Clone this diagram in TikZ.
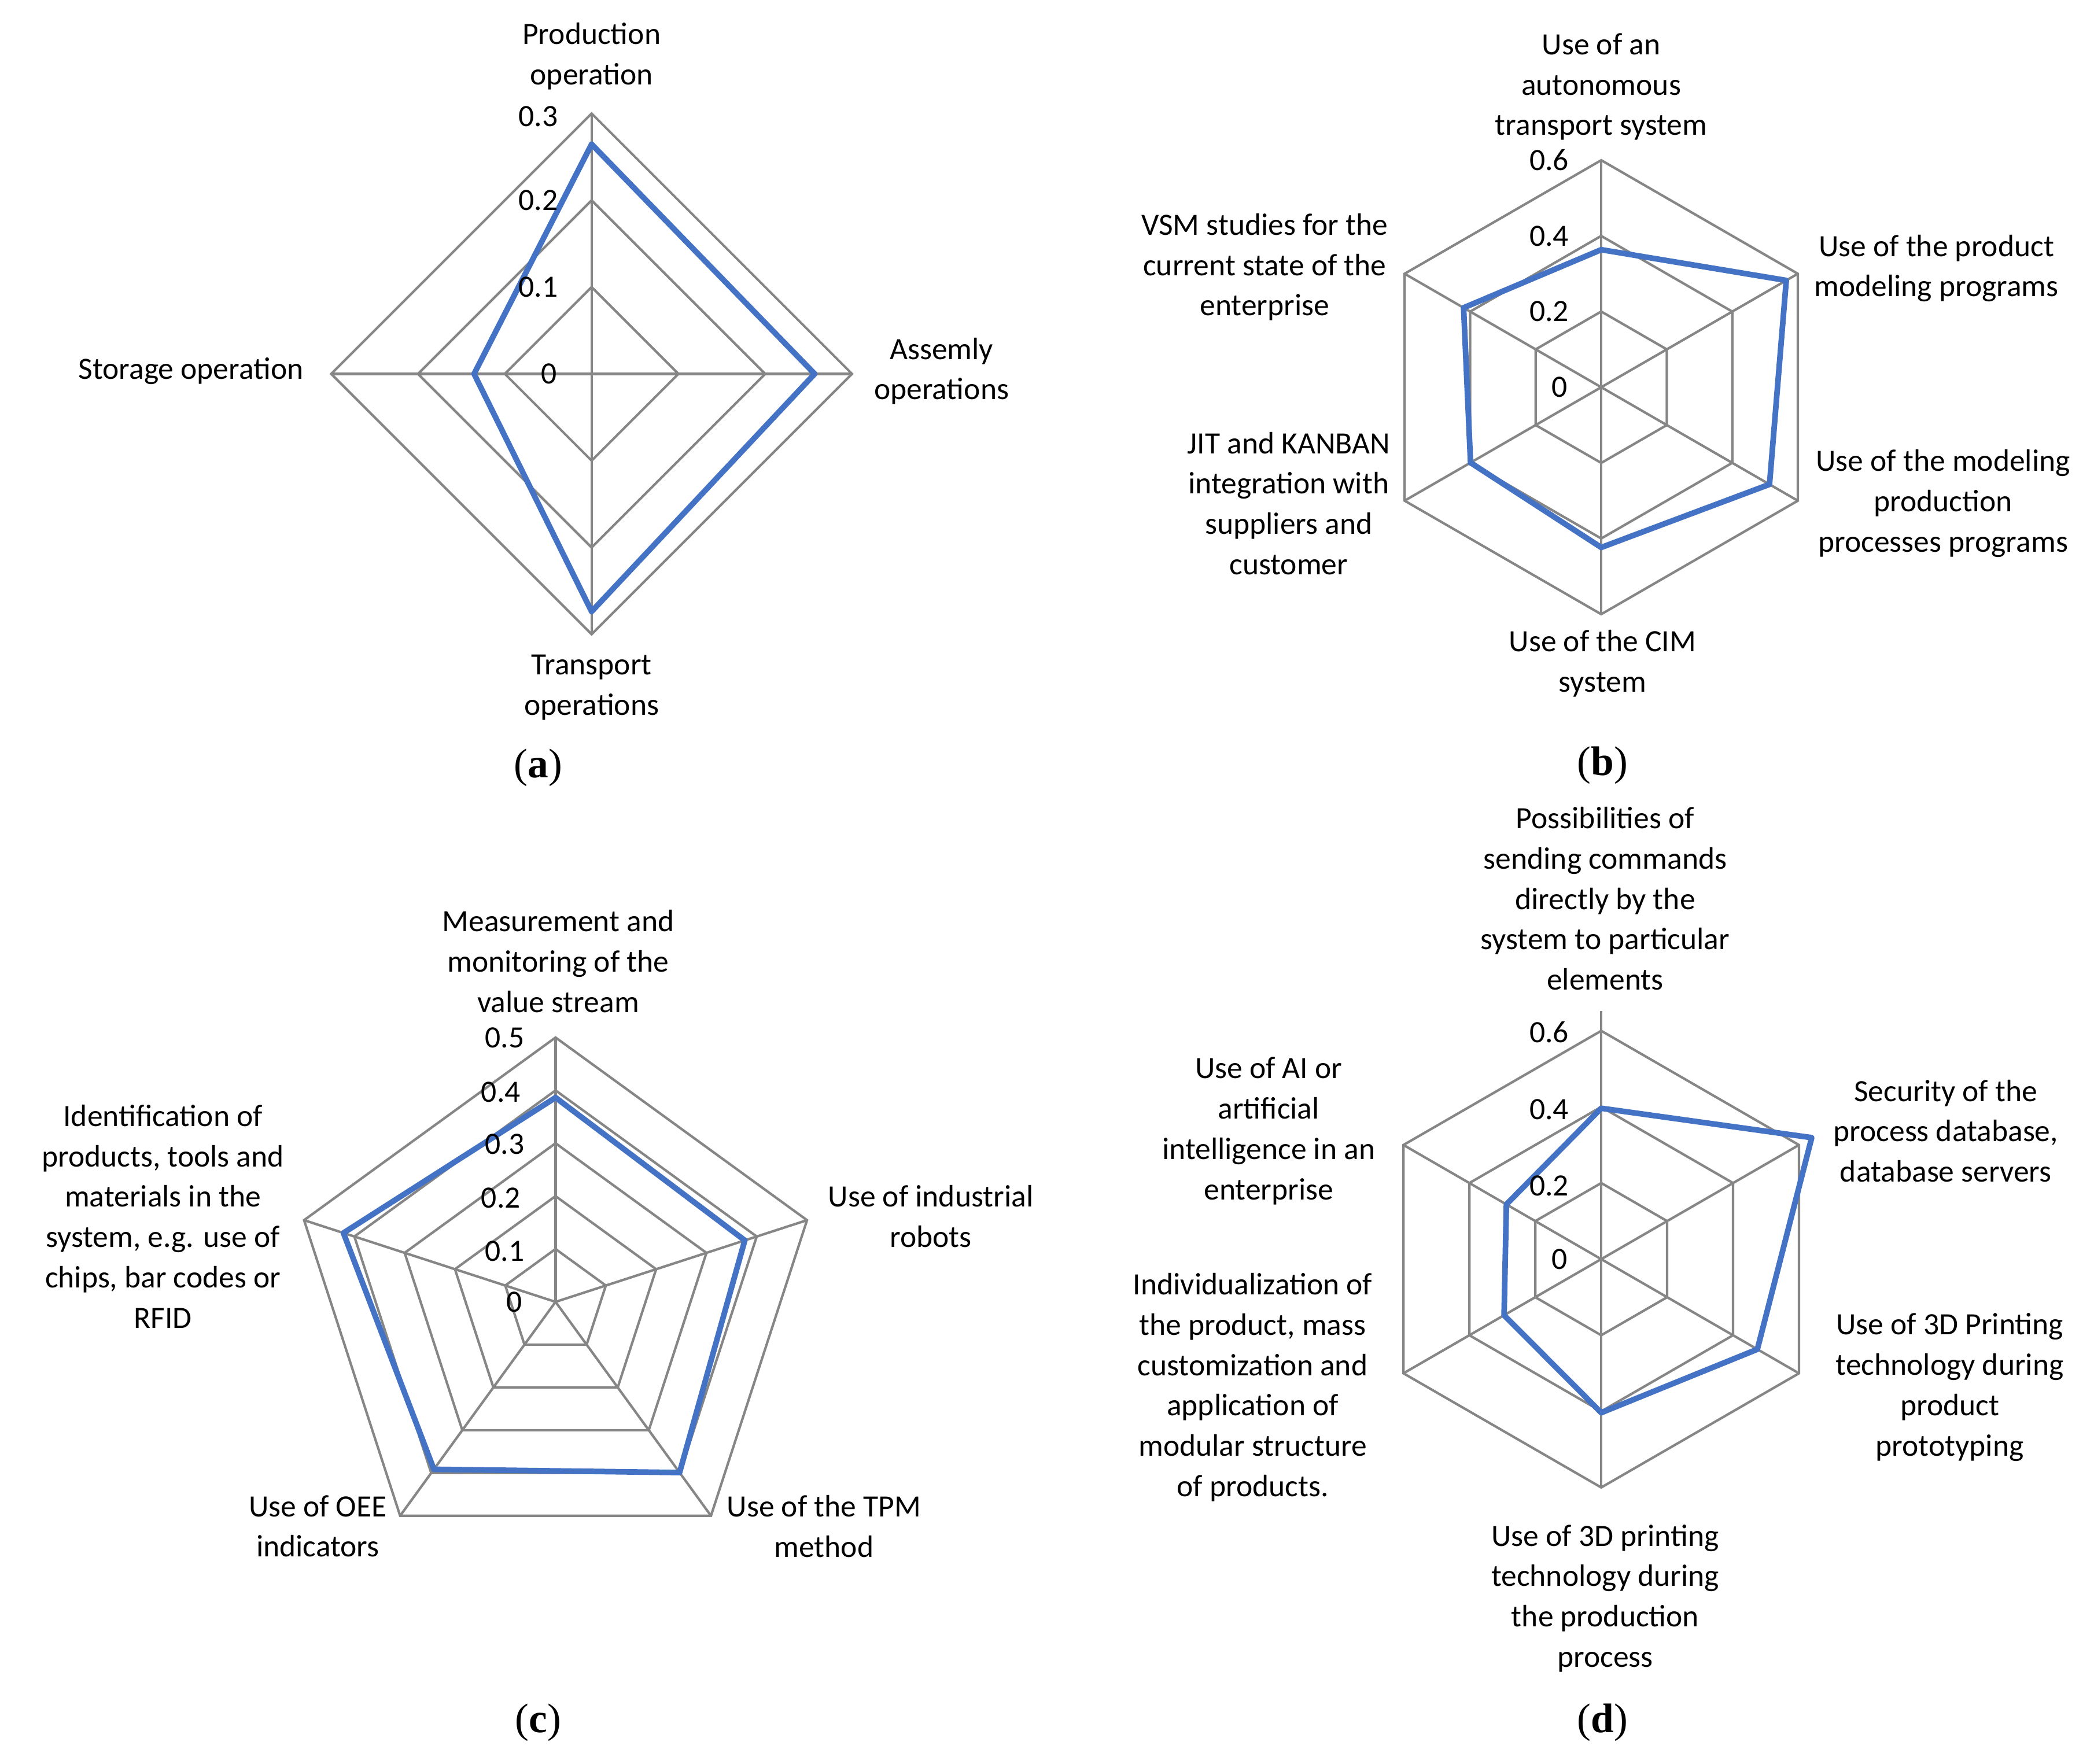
\documentclass[tikz,border=0pt]{standalone}
\usepackage{fontspec}
\setmainfont{Carlito}
\newfontfamily\capfont{Liberation Serif}
\definecolor{gridc}{RGB}{134,134,134}
\definecolor{datac}{RGB}{68,114,196}
\begin{document}
\begin{tikzpicture}[x=0.025cm,y=-0.025cm,
  grid/.style={draw=gridc,line width=1.3pt,line join=miter},
  data/.style={draw=datac,line width=3pt,line join=round},
  lab/.style={align=center,font=\fontsize{16.5}{21.5}\selectfont,inner sep=0pt},
  tick/.style={font=\fontsize{16.5}{20}\selectfont,inner sep=0pt},
  subcap/.style={font=\capfont\fontsize{22}{26}\selectfont,inner sep=0pt}]
\useasboundingbox (0,0) rectangle (1568,1321);
% (a)
\begin{scope}[shift={(443,280)},yscale=-1]
\foreach \r in {65,130,195}{\draw[grid] (90:\r)--(0:\r)--(-90:\r)--(180:\r)--cycle;}
\foreach \a in {90,0,-90,180}{\draw[grid] (0,0)--(\a:195);}
\draw[data] (90:172)--(0:167)--(-90:178)--(180:88)--cycle;
\end{scope}
\node[tick] (a3) at (403,87) {0.3};\node[tick] (a2) at (403,150) {0.2};
\node[tick] (a1) at (403,215) {0.1};\node[tick] (a0) at (411,280) {0};
\node[lab] (la1) at (443,42) {Production\\operation};
\node[lab] (la2) at (705,278) {Assemly\\operations};
\node[lab] (la3) at (143,278) {Storage operation};
\node[lab] (la4) at (443,515) {Transport\\operations};
\node[subcap] (ca) at (403,575) {(\textbf{a})};
% (b)
\begin{scope}[shift={(1199,290)},yscale=-1]
\foreach \r in {56.7,113.3,170}{\draw[grid] (90:\r)--(30:\r)--(-30:\r)--(-90:\r)--(-150:\r)--(150:\r)--cycle;}
\foreach \a in {90,30,-30,-90,-150,150}{\draw[grid] (0,0)--(\a:170);}
\draw[data] (90:103)--(30:160)--(-30:145.5)--(-90:120)--(-150:113)--(150:119)--cycle;
\end{scope}
\node[tick] (b3) at (1160,120) {0.6};\node[tick] (b2) at (1160,177) {0.4};
\node[tick] (b1) at (1160,233) {0.2};\node[tick] (b0) at (1168,290) {0};
\node[lab] (lb1) at (1199,65) {Use of an\\autonomous\\transport system};
\node[lab] (lb2) at (1450,201) {Use of the product\\modeling programs};
\node[lab] (lb3) at (1455,377) {Use of the modeling\\production\\processes programs};
\node[lab] (lb4) at (1200,497) {Use of the CIM\\system};
\node[lab] (lb5) at (965,377) {JIT and KANBAN\\integration with\\suppliers and\\customer};
\node[lab] (lb6) at (947,200) {VSM studies for the\\current state of the\\enterprise};
\node[subcap] (cb) at (1200,573) {(\textbf{b})};
% (c)
\begin{scope}[shift={(416,975)},yscale=-1]
\foreach \r in {39.6,79.2,118.8,158.4,198}{\draw[grid] (90:\r)--(18:\r)--(-54:\r)--(-126:\r)--(162:\r)--cycle;}
\foreach \a in {90,18,-54,-126,162}{\draw[grid] (0,0)--(\a:198);}
\draw[data] (90:153)--(18:149)--(-54:158)--(-126:155)--(162:167)--cycle;
\end{scope}
\node[tick] (c5) at (378,777) {0.5};\node[tick] (c4) at (375,818) {0.4};
\node[tick] (c3) at (378,857) {0.3};\node[tick] (c2) at (375,897) {0.2};
\node[tick] (c1) at (378,937) {0.1};\node[tick] (c0) at (385,975) {0};
\node[lab] (lc1) at (418,720) {Measurement and\\monitoring of the\\value stream};
\node[lab] (lc2) at (697,911) {Use of industrial\\robots};
\node[lab] (lc3) at (617,1143) {Use of the TPM\\method};
\node[lab] (lc4) at (238,1143) {Use of OEE\\indicators};
\node[lab] (lc5) at (122,911) {Identification of\\products, tools and\\materials in the\\system, e.g. use of\\chips, bar codes or\\RFID};
\node[subcap] (cc) at (403,1290) {(\textbf{c})};
% (d)
\begin{scope}[shift={(1199,943)},yscale=-1]
\foreach \r in {57,114,171}{\draw[grid] (90:\r)--(30:\r)--(-30:\r)--(-90:\r)--(-150:\r)--(150:\r)--cycle;}
\foreach \a in {30,-30,-90,-150,150}{\draw[grid] (0,0)--(\a:171);}
\draw[grid] (0,0)--(90:186);
\draw[data] (90:113)--(30:182)--(-30:135)--(-90:115)--(-150:84)--(150:82)--cycle;
\end{scope}
\node[tick] (d3) at (1160,773) {0.6};\node[tick] (d2) at (1160,831) {0.4};
\node[tick] (d1) at (1160,888) {0.2};\node[tick] (d0) at (1168,943) {0};
\node[lab] (ld1) at (1202,673) {Possibilities of\\sending commands\\directly by the\\system to particular\\elements};
\node[lab] (ld2) at (1457,847) {Security of the\\process database,\\database servers};
\node[lab] (ld3) at (1460,1039) {Use of 3D Printing\\technology during\\product\\prototyping};
\node[lab] (ld4) at (1202,1197) {Use of 3D printing\\technology during\\the production\\process};
\node[lab] (ld5) at (938,1039) {Individualization of\\the product, mass\\customization and\\application of\\modular structure\\of products.};
\node[lab] (ld6) at (950,847) {Use of AI or\\artificial\\intelligence in an\\enterprise};
\node[subcap] (cd) at (1200,1290) {(\textbf{d})};
\end{tikzpicture}
\end{document}
